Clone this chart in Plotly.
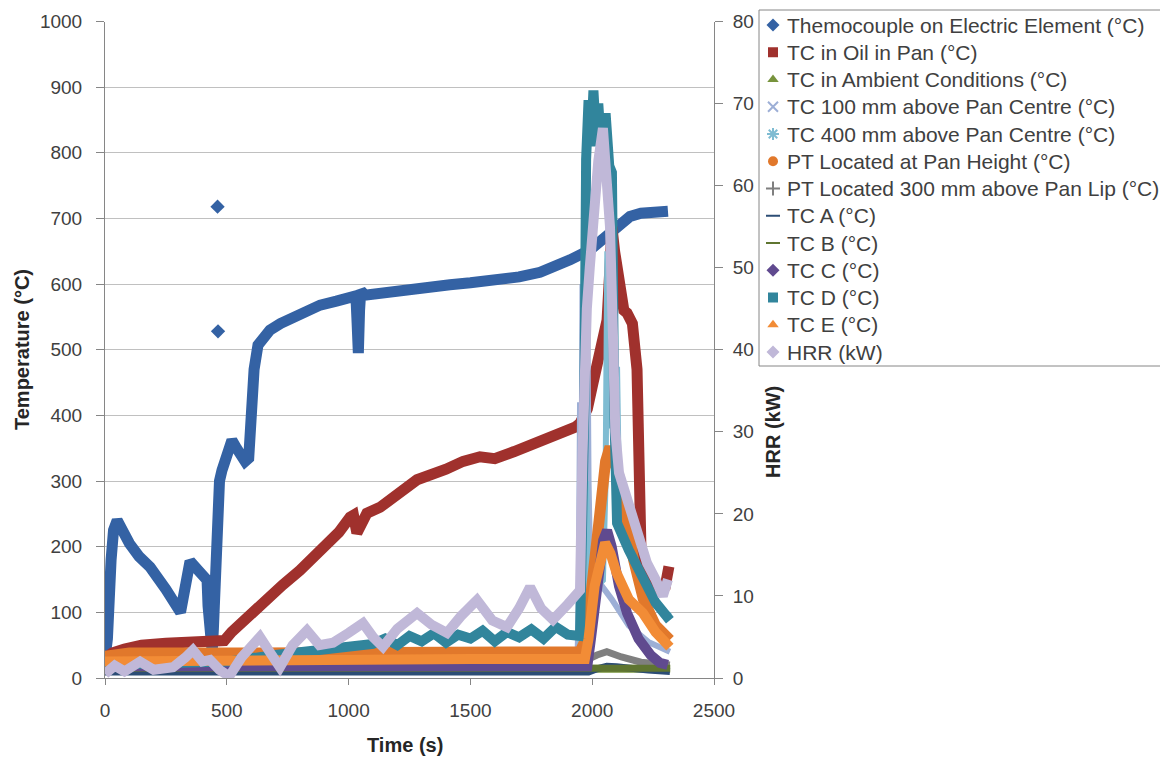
import plotly.graph_objects as go

# --- data (time in s, temperature in degC, HRR in kW) ---
elem_t = [0, 10, 25, 35, 50, 75, 100, 140, 185, 250, 290, 310, 320, 335, 349, 380, 419, 423, 427, 433, 440,
          445, 450, 455, 460, 470, 480, 500, 521, 540, 554, 575, 590, 600, 612, 628, 650, 677, 720, 760,
          820, 883, 950, 1006, 1030, 1035, 1040, 1045, 1050, 1067, 1140, 1211, 1300, 1416, 1500, 1621,
          1700, 1786, 1850, 1909, 1991, 2030, 2061, 2100, 2155, 2200, 2278, 2311]
elem_v = [30, 60, 180, 225, 240, 222, 205, 185, 169, 135, 112, 100, 120, 165, 178, 165, 149, 110, 73, 45, 40,
          75, 150, 240, 300, 300, 316, 340, 362, 350, 340, 330, 335, 400, 470, 507, 520, 530, 540, 548,
          558, 568, 574, 579, 582, 540, 495, 560, 590, 583, 587, 591, 594, 599, 602, 606,
          611, 618, 626, 637, 652, 663, 672, 688, 703, 708, 712, 711]
elem_out_t = [462, 464]
elem_out_v = [718, 528]

oil_t = [0, 30, 80, 150, 250, 350, 450, 490, 520, 580, 664, 730, 800, 900, 960, 1006, 1020, 1034, 1050,
         1075, 1129, 1200, 1281, 1400, 1470, 1539, 1600, 1680, 1750, 1850, 1930, 1950, 1980, 2003, 2040,
         2061, 2075, 2081, 2092, 2110, 2130, 2143, 2165, 2184, 2188, 2192, 2196, 2200, 2230, 2270, 2300, 2315]
oil_v = [30, 38, 44, 50, 53, 55, 55, 57, 70, 92, 119, 142, 164, 200, 222, 245, 248, 221, 232,
         251, 260, 278, 302, 318, 330, 337, 334, 345, 355, 368, 382, 388, 410, 449, 500,
         545, 640, 687, 650, 600, 560, 556, 540, 470, 420, 340, 260, 200, 150, 135, 140, 170]

amb_t = [0, 1000, 2000, 2320]
amb_v = [14, 14, 14, 14]

tc100_t = [0, 1000, 1940, 1945, 1950, 1955, 1960, 1965, 1970, 1975, 1980, 1985, 1990, 2000, 2020, 2044,
           2080, 2150, 2230, 2319]
tc100_v = [28, 30, 34, 120, 420, 180, 600, 250, 740, 380, 560, 300, 200, 160, 150, 140,
           120, 80, 55, 40]

tc400_t = [0, 1000, 1950, 1960, 1965, 1975, 1985, 2000, 2020, 2044, 2055, 2062, 2068, 2074, 2080, 2088,
           2095, 2102, 2110, 2150, 2208, 2260, 2319]
tc400_v = [28, 30, 34, 180, 100, 300, 130, 120, 140, 149, 300, 650, 380, 730, 420, 600,
           350, 474, 280, 200, 140, 110, 95]

ptpan_t = [0, 100, 500, 1000, 1500, 1950, 1975, 2000, 2030, 2055, 2073, 2090, 2114, 2143, 2170, 2210,
           2260, 2319]
ptpan_v = [33, 38, 38, 39, 40, 40, 60, 150, 260, 330, 352, 330, 302, 241, 180, 120, 80, 58]

pt300_t = [0, 1980, 2020, 2060, 2120, 2200, 2319]
pt300_v = [26, 28, 35, 40, 32, 24, 20]

tca_t = [0, 1985, 2020, 2060, 2100, 2160, 2230, 2319]
tca_v = [9, 9, 14, 18, 17, 14, 12, 10]

tcb_t = [0, 1000, 2000, 2320]
tcb_v = [15, 15, 15, 15]

tcc_t = [0, 1000, 1980, 1995, 2020, 2045, 2061, 2080, 2110, 2143, 2190, 2240, 2278, 2310]
tcc_v = [18, 18, 18, 60, 150, 210, 225, 200, 140, 99, 60, 35, 23, 20]

tcd_t = [0, 300, 500, 700, 900, 1000, 1100, 1150, 1200, 1250, 1300, 1350, 1400, 1450, 1500, 1550, 1600,
         1650, 1700, 1750, 1800, 1850, 1900, 1950, 1958, 1962, 1968, 1975, 1985, 1995, 2005, 2015, 2025,
         2040, 2055, 2070, 2081, 2090, 2102, 2150, 2208, 2260, 2319]
tcd_v = [20, 22, 25, 35, 42, 46, 52, 60, 50, 64, 56, 68, 54, 66, 60, 72, 56,
         70, 62, 74, 60, 78, 66, 64, 250, 190, 420, 790, 880, 810, 895, 830, 875,
         790, 860, 780, 770, 420, 236, 195, 149, 115, 88]

tce_t = [0, 500, 1000, 1500, 1970, 1985, 2010, 2035, 2053, 2075, 2100, 2150, 2208, 2260, 2319]
tce_v = [25, 27, 28, 29, 29, 60, 140, 190, 206, 190, 160, 120, 99, 70, 47]

hrr_t = [0, 40, 80, 144, 200, 279, 330, 361, 400, 431, 470, 510, 560, 636, 680, 718, 770, 829, 880, 936,
         1000, 1059, 1100, 1141, 1200, 1281, 1340, 1404, 1460, 1527, 1590, 1650, 1700, 1745, 1790, 1839,
         1900, 1950, 1960, 1970, 1978, 1990, 2005, 2025, 2044, 2060, 2073, 2085, 2095, 2110, 2143, 2180,
         2225, 2260, 2290, 2311]
hrr_v = [0.5, 1.5, 0.8, 2.0, 1.0, 1.3, 2.5, 3.4, 2.0, 2.2, 1.0, 0.2, 2.5, 5.0, 3.0, 1.3, 4.0, 5.8, 4.0, 4.3,
         5.5, 6.7, 5.0, 3.8, 6.0, 7.9, 6.5, 5.5, 7.5, 9.5, 7.0, 6.2, 8.5, 11.1, 8.5, 7.1,
         9.0, 10.7, 27, 40, 45, 50, 56, 63, 67, 62, 55, 42, 30, 25, 22, 18,
         14, 12, 10, 12]

FONT = "Liberation Sans, Arial, sans-serif"

# name, x, y, colour, legend symbol, band width, axis
series = [
    ("Themocouple on Electric Element (°C)", elem_t, elem_v, "#3462a4", "diamond", 11, "y"),
    ("TC in Oil in Pan (°C)", oil_t, oil_v, "#a0312d", "square", 11, "y"),
    ("TC in Ambient Conditions (°C)", amb_t, amb_v, "#77933c", "triangle-up", 8, "y"),
    ("TC 100 mm above Pan Centre (°C)", tc100_t, tc100_v, "#9dafd6", "x-thin-open", 6, "y"),
    ("TC 400 mm above Pan Centre (°C)", tc400_t, tc400_v, "#7fbcd2", "asterisk-open", 6, "y"),
    ("PT Located at Pan Height (°C)", ptpan_t, ptpan_v, "#e1782b", "circle", 11, "y"),
    ("PT Located 300 mm above Pan Lip (°C)", pt300_t, pt300_v, "#7f7f7f", "cross-thin-open", 7, "y"),
    ("TC A (°C)", tca_t, tca_v, "#2c4d75", "line-ew-open", 7, "y"),
    ("TC B (°C)", tcb_t, tcb_v, "#5f7530", "line-ew-open", 7, "y"),
    ("TC C (°C)", tcc_t, tcc_v, "#604a8f", "diamond", 10, "y"),
    ("TC D (°C)", tcd_t, tcd_v, "#31859c", "square", 10, "y"),
    ("TC E (°C)", tce_t, tce_v, "#f28c36", "triangle-up", 10, "y"),
    ("HRR (kW)", hrr_t, hrr_v, "#c0b8d8", "diamond", 10, "y2"),
]

# page is drawn with an 8px body margin, so work in figure pixels = screen pixels - 8
W, H = 1160, 754
OFF = 8


def fx(sx):
    return (sx - OFF) / W


def fy(sy):
    return 1 - (sy - OFF) / H


fig = go.Figure()

for name, xs, ys, col, sym, w, ax in series:
    fig.add_trace(go.Scatter(x=xs, y=ys, mode="lines", xaxis="x", yaxis=ax, showlegend=False,
                             hoverinfo="skip", line=dict(color=col, width=w)))
    if name.startswith("Themocouple"):
        fig.add_trace(go.Scatter(x=elem_out_t, y=elem_out_v, mode="markers", showlegend=False,
                                 hoverinfo="skip",
                                 marker=dict(symbol="diamond", size=11, color=col)))

# hand-made legend box (Excel style: tight rows, markers only)
leg_left, leg_top, leg_right, leg_bottom = 759, 10, 1165, 366
row0, row_step = 25, 27.25
mk_x, txt_x = 773, 785

lx, ly, lsym, lcol, lw = [], [], [], [], []
annotations = []
for i, (name, xs, ys, col, sym, w, ax) in enumerate(series):
    yy = row0 + i * row_step
    lx.append(mk_x - OFF)
    ly.append(yy - OFF)
    lsym.append(sym)
    lcol.append(col)
    lw.append(2 if sym.endswith("open") else 0)
    annotations.append(dict(text=name, xref="paper", yref="paper", x=fx(txt_x), y=fy(yy),
                            xanchor="left", yanchor="middle", showarrow=False,
                            font=dict(family=FONT, size=21, color="#404040")))

fig.add_trace(go.Scatter(x=lx, y=ly, mode="markers", xaxis="x3", yaxis="y3", showlegend=False,
                         hoverinfo="skip", cliponaxis=False,
                         marker=dict(symbol=lsym, size=10, color=lcol,
                                     line=dict(color=lcol, width=lw))))

annotations += [
    dict(text="<b>Time (s)</b>", xref="paper", yref="paper", x=fx(405), y=fy(745),
         xanchor="center", yanchor="middle", showarrow=False,
         font=dict(family=FONT, size=20, color="#262626")),
    dict(text="<b>Temperature (°C)</b>", xref="paper", yref="paper", x=fx(22), y=fy(350),
         xanchor="center", yanchor="middle", textangle=-90, showarrow=False,
         font=dict(family=FONT, size=20, color="#262626")),
    dict(text="<b>HRR (kW)</b>", xref="paper", yref="paper", x=fx(773), y=fy(432),
         xanchor="center", yanchor="middle", textangle=-90, showarrow=False,
         font=dict(family=FONT, size=20, color="#262626")),
]

axis_common = dict(showline=True, linecolor="#868686", ticks="outside", tickcolor="#868686",
                   zeroline=False, automargin=False,
                   tickfont=dict(family=FONT, size=19, color="#404040"))

fig.update_layout(
    width=W, height=H,
    margin=dict(l=0, r=0, t=0, b=0, autoexpand=False),
    paper_bgcolor="white", plot_bgcolor="rgba(0,0,0,0)",
    showlegend=False,
    xaxis=dict(domain=[fx(105), fx(714)], anchor="y", range=[0, 2500], dtick=500, showgrid=False,
               ticklen=6, ticklabelstandoff=9, **axis_common),
    yaxis=dict(domain=[fy(678), fy(21.5)], anchor="x", range=[0, 1000], dtick=100, showgrid=True,
               gridcolor="#c0c0c0", ticklen=8, ticklabelstandoff=10, **axis_common),
    yaxis2=dict(range=[0, 80], dtick=10, overlaying="y", anchor="x", side="right", showgrid=False,
                ticklen=8, ticklabelstandoff=6, **axis_common),
    xaxis3=dict(domain=[0, 1], range=[0, W], visible=False, anchor="y3", automargin=False),
    yaxis3=dict(domain=[0, 1], range=[H, 0], visible=False, anchor="x3", automargin=False),
    shapes=[dict(type="rect", xref="paper", yref="paper", x0=fx(leg_left), x1=fx(leg_right),
                 y0=fy(leg_bottom), y1=fy(leg_top), line=dict(color="#868686", width=1),
                 fillcolor="rgba(0,0,0,0)", layer="above")],
    annotations=annotations,
)

fig.write_html("out.html")
